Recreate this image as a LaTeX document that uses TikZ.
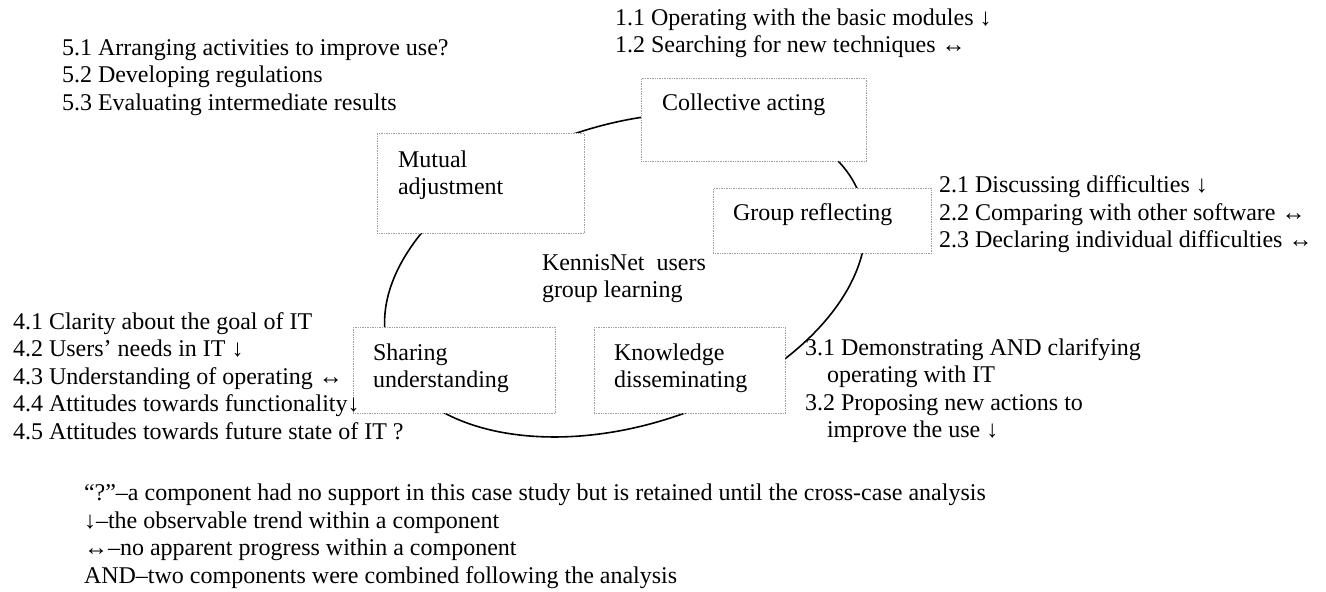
\documentclass[tikz,border=0pt]{standalone}
\usepackage{fontspec}
\setmainfont{Liberation Serif}
\usetikzlibrary{calc}

% every text block is anchored at the baseline of its last line
\tikzset{
  txt/.style={font=\fontsize{24}{27.5}\selectfont, inner sep=0pt, outer sep=0pt,
              align=left, anchor=base west},
  stagebox/.style={draw=gray!75, densely dotted, line width=0.7pt, fill=white,
                   inner sep=0pt, anchor=north west},
  cycleline/.style={line width=1.6pt, black}
}

\begin{document}
\begin{tikzpicture}[x=1pt,y=-1pt]
\useasboundingbox (0,0) rectangle (1326,592);

% the learning cycle, drawn first so the stage boxes sit on top of it
\coordinate (ctr) at (625,275);
\draw[cycleline] (ctr) ellipse [x radius=248pt, y radius=150pt, rotate=18];

% stage boxes
\node[stagebox, minimum width=207pt, minimum height=100pt] (mutual)  at (377,133) {};
\node[stagebox, minimum width=225pt, minimum height=83pt]  (collect) at (641,78)  {};
\node[stagebox, minimum width=218pt, minimum height=65pt]  (group)   at (713,188) {};
\node[stagebox, minimum width=202pt, minimum height=86pt]  (share)   at (353,327) {};
\node[stagebox, minimum width=191pt, minimum height=86pt]  (know)    at (594,327) {};

% stage names
\node[txt] (mutual-t)  at ($(mutual.north west)+(21,61.5)$) {Mutual\\adjustment};
\node[txt] (collect-t) at ($(collect.north west)+(21,32)$)  {Collective acting};
\node[txt] (group-t)   at ($(group.north west)+(20,32)$)    {Group reflecting};
\node[txt] (share-t)   at ($(share.north west)+(20,60.5)$)  {Sharing\\understanding};
\node[txt] (know-t)    at ($(know.north west)+(20,60.5)$)   {Knowledge\\disseminating};

% centre title
\node[txt] (title) at (542,297.5) {KennisNet\ \ users\\group learning};

% component lists
\node[txt] (list1) at (615,52.5)
  {1.1 Operating with the basic modules ↓\\1.2 Searching for new techniques ↔};
\node[txt] (list2) at (939,247.5)
  {2.1 Discussing difficulties ↓\\2.2 Comparing with other software ↔\\2.3 Declaring individual difficulties ↔};
\node[txt] (list3) at (805,437.5)
  {3.1 Demonstrating AND clarifying\\\hspace*{22pt}operating with IT\\3.2 Proposing new actions to\\\hspace*{22pt}improve the use ↓};
\node[txt] (list4) at (13,439)
  {4.1 Clarity about the goal of IT\\4.2 Users’ needs in IT ↓\\4.3 Understanding of operating ↔\\4.4 Attitudes towards functionality↓\\4.5 Attitudes towards future state of IT ?};
\node[txt] (list5) at (62,110)
  {5.1 Arranging activities to improve use?\\5.2 Developing regulations\\5.3 Evaluating intermediate results};

% legend
\node[txt] (legend) at (84,583)
  {“?”–a component had no support in this case study but is retained until the cross-case analysis\\
   ↓–the observable trend within a component\\
   ↔–no apparent progress within a component\\
   AND–two components were combined following the analysis};
\end{tikzpicture}
\end{document}
